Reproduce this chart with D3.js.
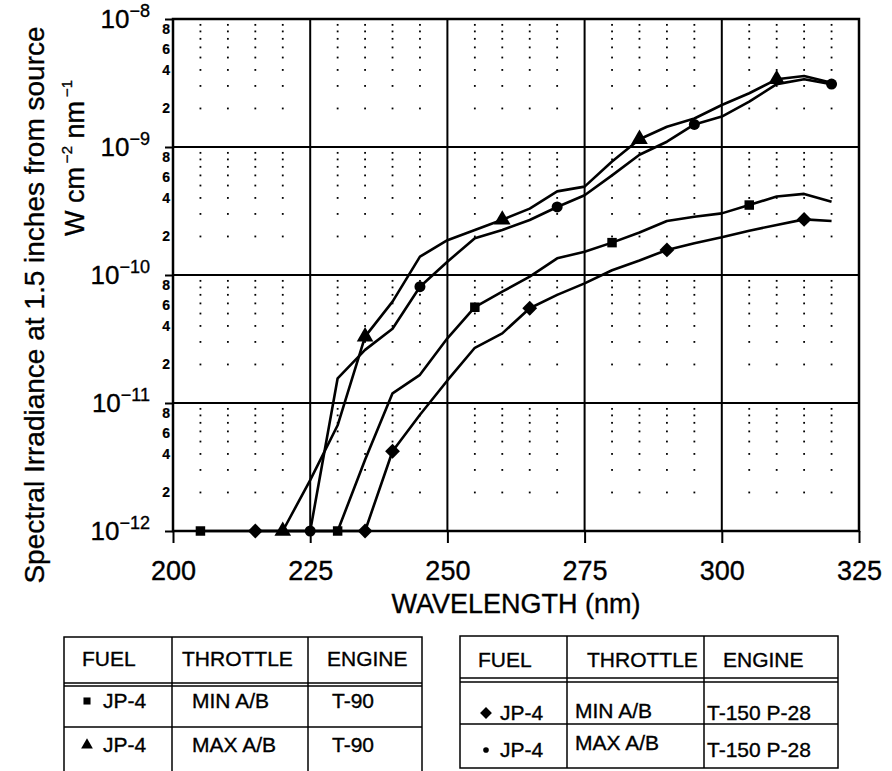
<!DOCTYPE html>
<html lang="en">
<head>
<meta charset="utf-8">
<title>Spectral irradiance</title>
<script src="https://d3js.org/d3.v7.min.js"></script>
<style>
  body { margin: 0; background: #fff; }
  svg text { font-family: "Liberation Sans", Arial, sans-serif; fill: #000; stroke: #000; stroke-width: 0.35px; }
</style>
</head>
<body>
<svg id="chart" width="892" height="771"></svg>
<script>
// wavelengths (nm) at which every curve is sampled
var wavelengths = [205, 210, 215, 220, 225, 230, 235, 240, 245, 250, 255, 260,
                   265, 270, 275, 280, 285, 290, 295, 300, 305, 310, 315, 320];

// JP-4, MIN A/B, T-90 (square)
var minT90 = [1e-12, 1e-12, 1e-12, 1e-12, 1e-12, 1e-12, 3.6e-12, 1.19e-11, 1.66e-11, 3.2e-11, 5.6e-11, 7.4e-11,
              9.7e-11, 1.35e-10, 1.52e-10, 1.79e-10, 2.15e-10, 2.64e-10, 2.85e-10, 3.03e-10, 3.52e-10, 4.1e-10, 4.3e-10, 3.74e-10];
// JP-4, MAX A/B, T-90 (triangle)
var maxT90 = [null, null, null, 1e-12, 2.5e-12, 6.7e-12, 3.3e-11, 6.2e-11, 1.39e-10, 1.87e-10, 2.25e-10, 2.7e-10,
              3.3e-10, 4.5e-10, 4.9e-10, 7.7e-10, 1.15e-9, 1.44e-9, 1.67e-9, 2.13e-9, 2.63e-9, 3.38e-9, 3.59e-9, 3.18e-9];
// JP-4, MIN A/B, T-150 P-28 (diamond)
var minT150 = [null, null, 1e-12, 1e-12, 1e-12, 1e-12, 1e-12, 4.2e-12, 8.1e-12, 1.5e-11, 2.7e-11, 3.5e-11,
               5.5e-11, 7.0e-11, 8.6e-11, 1.09e-10, 1.3e-10, 1.57e-10, 1.77e-10, 1.97e-10, 2.22e-10, 2.46e-10, 2.72e-10, 2.64e-10];
// JP-4, MAX A/B, T-150 P-28 (circle)
var maxT150 = [null, null, null, null, 1e-12, 1.56e-11, 2.6e-11, 3.8e-11, 8.1e-11, 1.27e-10, 1.94e-10, 2.25e-10,
               2.69e-10, 3.4e-10, 4.2e-10, 6.0e-10, 8.7e-10, 1.1e-9, 1.5e-9, 1.73e-9, 2.26e-9, 3.1e-9, 3.38e-9, 3.1e-9];

// wavelengths carrying a marker on each curve
var minT90Marks = [205, 230, 255, 280, 305];
var maxT90Marks = [220, 235, 260, 285, 310];
var minT150Marks = [215, 235, 240, 265, 290, 315];
var maxT150Marks = [225, 245, 270, 295, 320];

var xTicks = [200, 225, 250, 275, 300, 325];
var yDecades = [-12, -11, -10, -9, -8];
var yMinorLabels = [2, 4, 6, 8];

var legendHeader = ["FUEL", "THROTTLE", "ENGINE"];
var legendLeft = [["JP-4", "MIN A/B", "T-90"], ["JP-4", "MAX A/B", "T-90"]];
var legendRight = [["JP-4", "MIN A/B", "T-150 P-28"], ["JP-4", "MAX A/B", "T-150 P-28"]];

var svg = d3.select("#chart");
var x = d3.scaleLinear().domain([200, 325]).range([173, 859]);
var y = d3.scaleLog().domain([1e-12, 1e-8]).range([531, 19]);

// diamond drawn as a square turned 45 degrees (wider than d3's diamond)
var wideDiamond = {
  draw: function(ctx, size) {
    var r = Math.sqrt(size / 2);
    ctx.moveTo(0, -r); ctx.lineTo(r, 0); ctx.lineTo(0, r); ctx.lineTo(-r, 0); ctx.closePath();
  }
};

// minor dotted grid
var dots = [];
wavelengths.concat([200]).forEach(function(w) {
  if (w % 25 === 0) return;
  yDecades.slice(0, 4).forEach(function(d) {
    for (var m = 2; m <= 9; m++) dots.push([w, m * Math.pow(10, d)]);
  });
});
svg.append("g").selectAll("rect").data(dots).join("rect")
  .attr("x", function(d) { return x(d[0]) - 0.9; })
  .attr("y", function(d) { return y(d[1]) - 0.9; })
  .attr("width", 1.8).attr("height", 1.8).attr("fill", "#000");

// major grid
var grid = svg.append("g").attr("stroke", "#000").attr("stroke-width", 2);
grid.selectAll(".vx").data(xTicks.slice(1, -1)).join("line")
  .attr("x1", function(d) { return x(d); }).attr("x2", function(d) { return x(d); })
  .attr("y1", y(1e-8)).attr("y2", y(1e-12));
grid.selectAll(".hy").data(yDecades.slice(1, -1)).join("line")
  .attr("y1", function(d) { return y(Math.pow(10, d)); }).attr("y2", function(d) { return y(Math.pow(10, d)); })
  .attr("x1", x(200)).attr("x2", x(325));
svg.append("rect")
  .attr("x", x(200)).attr("y", y(1e-8))
  .attr("width", x(325) - x(200)).attr("height", y(1e-12) - y(1e-8))
  .attr("fill", "none").attr("stroke", "#000").attr("stroke-width", 2.5);

// x axis
var xAxis = svg.append("g").attr("transform", "translate(0," + y(1e-12) + ")")
  .call(d3.axisBottom(x).tickValues(xTicks).tickSize(12).tickPadding(18).tickFormat(d3.format("d")));
xAxis.select(".domain").remove();
xAxis.selectAll("line").attr("stroke-width", 2);
xAxis.selectAll("text").attr("font-size", 27).attr("font-family", "Liberation Sans, Arial, sans-serif");

svg.append("text").attr("x", (x(200) + x(325)) / 2).attr("y", 613)
  .attr("text-anchor", "middle").attr("font-size", 27).text("WAVELENGTH (nm)");

// y axis: decade ticks and labels
var yAxis = svg.append("g").attr("transform", "translate(" + x(200) + ",0)")
  .call(d3.axisLeft(y).tickValues(yDecades.map(function(d) { return Math.pow(10, d); })).tickSize(8).tickFormat(""));
yAxis.select(".domain").remove();
yAxis.selectAll("line").attr("stroke-width", 2);

var yLab = svg.append("g").selectAll("text").data(yDecades).join("text")
  .attr("x", 150).attr("y", function(d) { return y(Math.pow(10, d)) + 9; })
  .attr("text-anchor", "end").attr("font-size", 26);
yLab.append("tspan").text("10");
yLab.append("tspan").attr("font-size", 18).attr("dy", -11).text(function(d) { return "\u2212" + (-d); });

// minor labels 2 4 6 8 (8 and 6 sit close, nudge them apart)
var minorVals = [];
yDecades.slice(0, 4).forEach(function(d) {
  yMinorLabels.forEach(function(m) { minorVals.push({ m: m, v: m * Math.pow(10, d) }); });
});
var nudge = { 2: 5, 4: 5, 6: 7, 8: 3 };
svg.append("g").selectAll("text").data(minorVals).join("text")
  .attr("x", 170).attr("y", function(d) { return y(d.v) + nudge[d.m]; })
  .attr("text-anchor", "end").attr("font-size", 14).attr("font-weight", "bold")
  .style("stroke-width", "0.2px")
  .text(function(d) { return d.m; });

// y title
svg.append("text")
  .attr("transform", "translate(44,305) rotate(-90)")
  .attr("text-anchor", "middle").attr("font-size", 28)
  .text("Spectral Irradiance at 1.5 inches from source");
var yt2 = svg.append("text")
  .attr("transform", "translate(84,158) rotate(-90)")
  .attr("text-anchor", "middle").attr("font-size", 27);
yt2.append("tspan").text("W cm");
yt2.append("tspan").attr("font-size", 15).attr("dy", -12).attr("dx", 4).text("\u22122");
yt2.append("tspan").attr("dy", 12).text(" nm");
yt2.append("tspan").attr("font-size", 15).attr("dy", -12).attr("dx", 4).text("\u22121");

// curves
var series = [
  { values: minT90, marks: minT90Marks, symbol: d3.symbolSquare, size: 90 },
  { values: maxT90, marks: maxT90Marks, symbol: d3.symbolTriangle, size: 120 },
  { values: minT150, marks: minT150Marks, symbol: wideDiamond, size: 110 },
  { values: maxT150, marks: maxT150Marks, symbol: d3.symbolCircle, size: 95 }
];
var line = d3.line()
  .defined(function(d) { return d.v != null; })
  .x(function(d) { return x(d.w); })
  .y(function(d) { return y(d.v); });

series.forEach(function(s) {
  var pts = wavelengths.map(function(w, i) { return { w: w, v: s.values[i] }; });
  svg.append("path").datum(pts)
    .attr("d", line).attr("fill", "none").attr("stroke", "#000")
    .attr("stroke-width", 2.6).attr("stroke-linejoin", "round");
  var mk = pts.filter(function(p) { return p.v != null && s.marks.indexOf(p.w) >= 0; });
  svg.append("g").selectAll("path").data(mk).join("path")
    .attr("transform", function(d) { return "translate(" + x(d.w) + "," + y(d.v) + ")"; })
    .attr("d", d3.symbol().type(s.symbol).size(s.size))
    .attr("fill", "#000");
});

// legend tables
function table(g, left, right, top, cols, rows, bottom, textX, markX, marker, markerSize, data, baselines) {
  g.append("rect").attr("x", left).attr("y", top).attr("width", right - left).attr("height", bottom - top)
    .attr("fill", "none").attr("stroke", "#000").attr("stroke-width", 1.5);
  cols.forEach(function(c) {
    g.append("line").attr("x1", c).attr("x2", c).attr("y1", top).attr("y2", bottom)
      .attr("stroke", "#000").attr("stroke-width", 1.5);
  });
  rows.forEach(function(r) {
    g.append("line").attr("x1", left).attr("x2", right).attr("y1", r).attr("y2", r)
      .attr("stroke", "#000").attr("stroke-width", 1.3);
  });
  legendHeader.forEach(function(h, i) {
    g.append("text").attr("x", textX[0][i]).attr("y", baselines[0]).attr("font-size", 21).text(h);
  });
  data.forEach(function(row, r) {
    row.forEach(function(t, i) {
      g.append("text").attr("x", textX[r + 1][i]).attr("y", baselines[r + 1][i]).attr("font-size", 21).text(t);
    });
    g.append("path")
      .attr("transform", "translate(" + markX + "," + (baselines[r + 1][0] - 7) + ")")
      .attr("d", d3.symbol().type(marker[r]).size(markerSize[r])).attr("fill", "#000");
  });
}

table(svg.append("g"), 64, 422, 637, [172, 308], [683, 686, 727], 790,
  [[82, 182, 327], [103, 192, 332], [103, 192, 332]], 87,
  [d3.symbolSquare, d3.symbolTriangle], [50, 60], legendLeft,
  [666, [708, 708, 708], [752, 752, 752]]);

table(svg.append("g"), 460, 838, 636, [567, 704], [678, 682, 724], 768,
  [[478, 587, 723], [500, 575, 707], [500, 575, 707]], 486,
  [wideDiamond, d3.symbolCircle], [70, 25], legendRight,
  [667, [720, 718, 720], [757, 750, 757]]);
</script>
</body>
</html>
